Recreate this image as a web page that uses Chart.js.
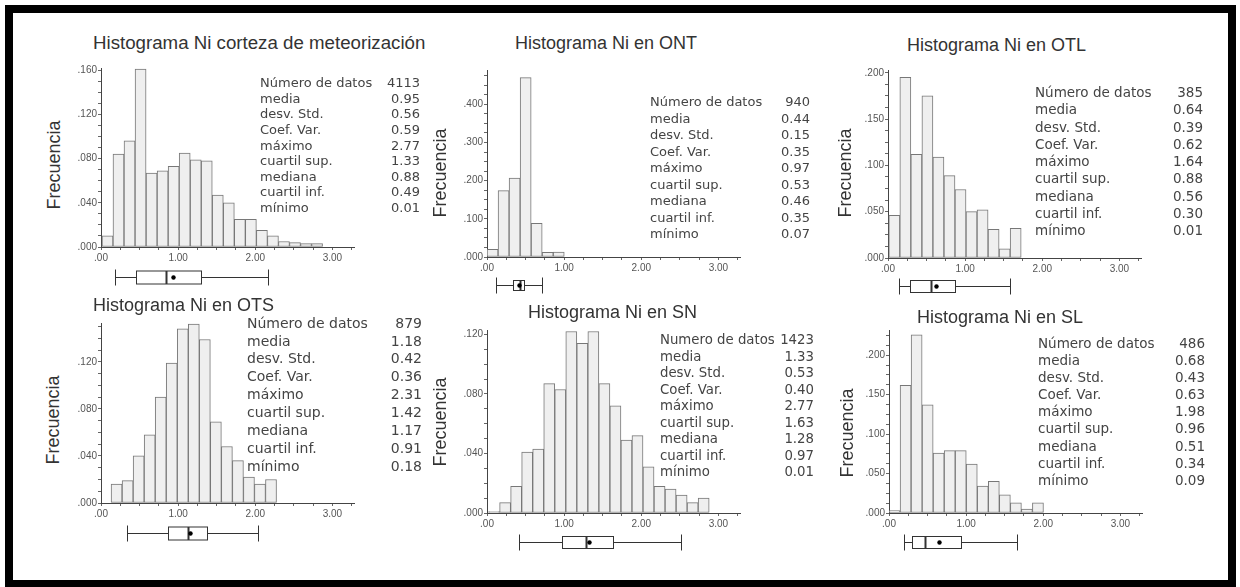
<!DOCTYPE html>
<html>
<head>
<meta charset="utf-8">
<script src="https://cdn.jsdelivr.net/npm/chart.js@4.4.0/dist/chart.umd.min.js"></script>
<style>
body { margin: 0; background: #fff; width: 1240px; height: 587px; overflow: hidden; position: relative; font-family: "Liberation Sans", Arial, sans-serif; }
#frame { position: absolute; left: 5px; top: 5px; width: 1215px; height: 567px; border: 8px solid #000; }
.ttl { position: absolute; line-height: 18px; color: #333; white-space: nowrap; }
.ylab { position: absolute; font-size: 18px; line-height: 18px; color: #333; white-space: nowrap; transform: translate(-50%, -50%) rotate(-90deg); }
.st { position: absolute; font-family: "DejaVu Sans", sans-serif; color: #444; white-space: nowrap; }
canvas { position: absolute; }
</style>
</head>
<body>
<div id="frame"></div>
<script>
var statNames = ['Número de datos', 'media', 'desv. Std.', 'Coef. Var.', 'máximo', 'cuartil sup.', 'mediana', 'cuartil inf.', 'mínimo'];
var statNamesSN = ['Numero de datos', 'media', 'desv. Std.', 'Coef. Var.', 'máximo', 'cuartil sup.', 'mediana', 'cuartil inf.', 'mínimo'];

// corteza de meteorizacion
var cortezaBins = [0.084, 0.227, 0.370, 0.513, 0.656, 0.799, 0.942, 1.085, 1.228, 1.371, 1.514, 1.657, 1.800, 1.943, 2.086, 2.229, 2.372, 2.515, 2.658, 2.801];
var cortezaFreq = [0.010, 0.084, 0.096, 0.161, 0.067, 0.069, 0.073, 0.085, 0.079, 0.078, 0.047, 0.040, 0.025, 0.025, 0.015, 0.010, 0.005, 0.004, 0.003, 0.003];
var cortezaStats = ['4113', '0.95', '0.56', '0.59', '2.77', '1.33', '0.88', '0.49', '0.01'];
var cortezaBox = [0.18, 0.45, 0.84, 0.93, 1.30, 2.17]; // bigote inf, q1, mediana, media, q3, bigote sup

// ONT
var ontBins = [0.072, 0.215, 0.358, 0.501, 0.644, 0.787, 0.930];
var ontFreq = [0.020, 0.174, 0.207, 0.470, 0.088, 0.012, 0.013];
var ontStats = ['940', '0.44', '0.15', '0.35', '0.97', '0.53', '0.46', '0.35', '0.07'];
var ontBox = [0.12, 0.34, 0.43, 0.41, 0.48, 0.71];

// OTL
var otlBins = [0.082, 0.225, 0.368, 0.511, 0.654, 0.797, 0.940, 1.083, 1.226, 1.369, 1.512, 1.655];
var otlFreq = [0.046, 0.195, 0.112, 0.175, 0.109, 0.089, 0.074, 0.050, 0.052, 0.031, 0.010, 0.032];
var otlStats = ['385', '0.64', '0.39', '0.62', '1.64', '0.88', '0.56', '0.30', '0.01'];
var otlBox = [0.14, 0.29, 0.56, 0.62, 0.87, 1.58];

// OTS
var otsBins = [0.202, 0.345, 0.488, 0.631, 0.774, 0.917, 1.060, 1.203, 1.346, 1.489, 1.632, 1.775, 1.918, 2.061, 2.204];
var otsFreq = [0.016, 0.019, 0.040, 0.058, 0.090, 0.119, 0.148, 0.152, 0.139, 0.069, 0.048, 0.036, 0.022, 0.016, 0.020];
var otsStats = ['879', '1.18', '0.42', '0.36', '2.31', '1.42', '1.17', '0.91', '0.18'];
var otsBox = [0.34, 0.87, 1.13, 1.16, 1.38, 2.04];

// SN
var snBins = [0.092, 0.235, 0.378, 0.521, 0.664, 0.807, 0.950, 1.093, 1.236, 1.379, 1.522, 1.665, 1.808, 1.951, 2.094, 2.237, 2.380, 2.523, 2.666, 2.809];
var snFreq = [0.001, 0.007, 0.018, 0.041, 0.043, 0.087, 0.083, 0.122, 0.114, 0.122, 0.087, 0.072, 0.049, 0.052, 0.031, 0.018, 0.016, 0.012, 0.007, 0.010];
var snStats = ['1423', '1.33', '0.53', '0.40', '2.77', '1.63', '1.28', '0.97', '0.01'];
var snBox = [0.41, 0.97, 1.28, 1.32, 1.63, 2.52];

// SL
var slBins = [0.072, 0.215, 0.358, 0.501, 0.644, 0.787, 0.930, 1.073, 1.216, 1.359, 1.502, 1.645, 1.788, 1.931];
var slFreq = [0.003, 0.162, 0.226, 0.137, 0.076, 0.079, 0.079, 0.062, 0.034, 0.040, 0.023, 0.013, 0.005, 0.013];
var slStats = ['486', '0.68', '0.43', '0.63', '1.98', '0.96', '0.51', '0.34', '0.09'];
var slBox = [0.19, 0.30, 0.47, 0.65, 0.93, 1.66];

// layout of each panel (page pixels)
var panels = [
    {title: 'Histograma Ni corteza de meteorización', bins: cortezaBins, freq: cortezaFreq, names: statNames, stats: cortezaStats, box: cortezaBox,
     yMax: 0.162, yStep: 0.04, left: 101, top: 68, bottom: 247, tx: 93, ty: 43, tfs: 18.7, fx: 54, fy: 165,
     sl: 260, sy: 83, lh: 15.6, sr: 420, fs: 13, boxOff: 30, boxH: 13},
    {title: 'Histograma Ni en ONT', bins: ontBins, freq: ontFreq, names: statNames, stats: ontStats, box: ontBox,
     yMax: 0.49, yStep: 0.1, left: 487, top: 70, bottom: 257, tx: 515, ty: 43, tfs: 18, fx: 440, fy: 173,
     sl: 650, sy: 102, lh: 16.5, sr: 810, fs: 13, boxOff: 28, boxH: 10},
    {title: 'Histograma Ni en OTL', bins: otlBins, freq: otlFreq, names: statNames, stats: otlStats, box: otlBox,
     yMax: 0.203, yStep: 0.05, left: 888, top: 70, bottom: 258, tx: 907, ty: 45, tfs: 18, fx: 845, fy: 173,
     sl: 1035, sy: 92, lh: 17.3, sr: 1203, fs: 13.5, boxOff: 28, boxH: 12},
    {title: 'Histograma Ni en OTS', bins: otsBins, freq: otsFreq, names: statNames, stats: otsStats, box: otsBox,
     yMax: 0.153, yStep: 0.04, left: 101, top: 323, bottom: 503, tx: 93, ty: 305, tfs: 18, fx: 53, fy: 420,
     sl: 247, sy: 323, lh: 17.9, sr: 422, fs: 14, boxOff: 30, boxH: 13},
    {title: 'Histograma Ni en SN', bins: snBins, freq: snFreq, names: statNamesSN, stats: snStats, box: snBox,
     yMax: 0.123, yStep: 0.04, left: 487, top: 330, bottom: 513, tx: 528, ty: 312, tfs: 18, fx: 440, fy: 422,
     sl: 660, sy: 340, lh: 16.5, sr: 814, fs: 13.3, boxOff: 29, boxH: 12},
    {title: 'Histograma Ni en SL', bins: slBins, freq: slFreq, names: statNames, stats: slStats, box: slBox,
     yMax: 0.232, yStep: 0.05, left: 889, top: 330, bottom: 513, tx: 917, ty: 317, tfs: 18, fx: 847, fy: 433,
     sl: 1038, sy: 343, lh: 17.1, sr: 1205, fs: 13.5, boxOff: 29, boxH: 12}
];

var boxPlugin = {
    id: 'boxplot',
    afterDraw: function(chart, args, opts) {
        var ctx = chart.ctx, sx = chart.scales.x, b = opts.values;
        var px = function(v) { return Math.round(sx.getPixelForValue(v)) + 0.5; };
        var yc = Math.round(chart.chartArea.bottom + opts.offset) + 0.5, h = opts.height;
        ctx.save();
        ctx.strokeStyle = '#333';
        ctx.lineWidth = 1;
        ctx.beginPath();
        ctx.moveTo(px(b[0]), yc); ctx.lineTo(px(b[1]), yc);
        ctx.moveTo(px(b[4]), yc); ctx.lineTo(px(b[5]), yc);
        ctx.moveTo(px(b[0]), yc - 8); ctx.lineTo(px(b[0]), yc + 8);
        ctx.moveTo(px(b[5]), yc - 8); ctx.lineTo(px(b[5]), yc + 8);
        ctx.stroke();
        ctx.fillStyle = '#fff';
        ctx.fillRect(px(b[1]), yc - h / 2, px(b[4]) - px(b[1]), h);
        ctx.strokeRect(px(b[1]), yc - h / 2, px(b[4]) - px(b[1]), h);
        ctx.lineWidth = 2;
        ctx.beginPath();
        ctx.moveTo(px(b[2]), yc - h / 2); ctx.lineTo(px(b[2]), yc + h / 2);
        ctx.stroke();
        ctx.fillStyle = '#000';
        ctx.beginPath();
        ctx.arc(px(b[3]), yc, 2.2, 0, Math.PI * 2);
        ctx.fill();
        ctx.restore();
    }
};

function addDiv(cls, text, css) {
    var d = document.createElement('div');
    d.className = cls;
    d.textContent = text;
    for (var k in css) d.style[k] = css[k];
    document.body.appendChild(d);
    return d;
}

function isMultiple(v, step) {
    var r = v / step;
    return Math.abs(r - Math.round(r)) < 1e-6;
}

function tickList(max, step) {
    var t = [];
    for (var i = 0; i * step <= max + 1e-9; i++) t.push({value: +(i * step).toFixed(6)});
    return t;
}

var yW = 36, xH = 16, padT = 10, padR = 12, padB = 30, xMax = 3.28, plotW = 253;

panels.forEach(function(p) {
    addDiv('ttl', p.title, {left: p.tx + 'px', top: (p.ty - 9) + 'px', fontSize: p.tfs + 'px'});
    addDiv('ylab', 'Frecuencia', {left: p.fx + 'px', top: p.fy + 'px'});
    for (var i = 0; i < p.names.length; i++) {
        var y = p.sy + i * p.lh - p.fs * 0.6;
        addDiv('st', p.names[i], {left: p.sl + 'px', top: y + 'px', fontSize: p.fs + 'px', lineHeight: (p.fs * 1.2) + 'px'});
        addDiv('st', p.stats[i], {left: (p.sr - 80) + 'px', width: '80px', textAlign: 'right', top: y + 'px', fontSize: p.fs + 'px', lineHeight: (p.fs * 1.2) + 'px'});
    }

    var cv = document.createElement('canvas');
    var w = yW + plotW + padR, h = padT + (p.bottom - p.top) + xH + padB;
    cv.width = w; cv.height = h;
    cv.style.left = (p.left - yW) + 'px';
    cv.style.top = (p.top - padT) + 'px';
    cv.style.width = w + 'px'; cv.style.height = h + 'px';
    document.body.insertBefore(cv, document.getElementById('frame').nextSibling);

    var pts = p.bins.map(function(b, i) { return {x: b, y: p.freq[i]}; });
    new Chart(cv.getContext('2d'), {
        type: 'bar',
        data: {
            datasets: [{
                data: pts,
                backgroundColor: '#efefef',
                borderColor: '#777',
                borderWidth: 1,
                borderSkipped: false,
                barPercentage: 1,
                categoryPercentage: 1
            }]
        },
        options: {
            responsive: false,
            animation: false,
            devicePixelRatio: 1,
            layout: {padding: {top: padT, right: padR, bottom: padB, left: 0}},
            plugins: {
                legend: {display: false},
                tooltip: {enabled: false},
                boxplot: {values: p.box, offset: p.boxOff, height: p.boxH}
            },
            scales: {
                x: {
                    type: 'linear', min: 0, max: xMax, offset: false,
                    afterBuildTicks: function(s) { s.ticks = tickList(xMax, 0.25); },
                    afterFit: function(s) { s.height = xH; },
                    grid: {drawOnChartArea: false, tickLength: 3, color: '#666', offset: false},
                    border: {color: '#444'},
                    ticks: {
                        autoSkip: false, maxRotation: 0, padding: 2,
                        color: '#555', font: {family: 'Liberation Sans', size: 10},
                        callback: function(v) { return isMultiple(v, 1) ? v.toFixed(2).replace(/^0/, '') : ''; }
                    }
                },
                y: {
                    min: 0, max: p.yMax,
                    afterBuildTicks: function(s) { s.ticks = tickList(p.yMax, p.yStep / 4); },
                    afterFit: function(s) { s.width = yW; },
                    grid: {drawOnChartArea: false, tickLength: 3, color: '#666'},
                    border: {color: '#444'},
                    ticks: {
                        autoSkip: false, padding: 1,
                        color: '#555', font: {family: 'Liberation Sans', size: 10},
                        callback: function(v) { return isMultiple(v, p.yStep) ? v.toFixed(3).replace(/^0/, '') : ''; }
                    }
                }
            }
        },
        plugins: [boxPlugin]
    });
});
</script>
</body>
</html>
